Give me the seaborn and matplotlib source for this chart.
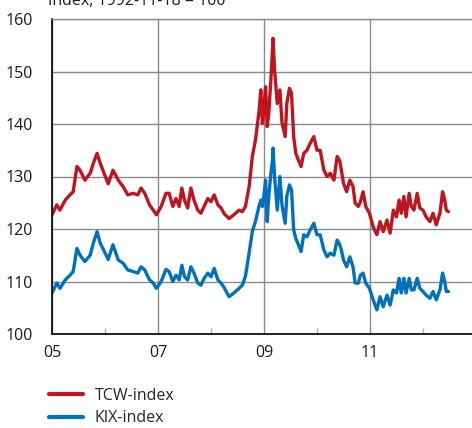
import matplotlib
matplotlib.use("Agg")
import matplotlib.pyplot as plt
from matplotlib.ticker import FixedLocator, NullFormatter
import seaborn as sns
import pandas as pd

# Decimal-year positions of the sampled observations
years = [
    2005.00, 2005.09, 2005.15, 2005.25, 2005.34, 2005.40, 2005.47, 2005.53, 2005.62, 2005.72,
    2005.78, 2005.85, 2005.91, 2005.96, 2006.06, 2006.15, 2006.25, 2006.34, 2006.43, 2006.53,
    2006.62, 2006.68, 2006.75, 2006.84, 2006.91, 2006.97, 2007.06, 2007.15, 2007.21, 2007.28,
    2007.34, 2007.40, 2007.45, 2007.50, 2007.56, 2007.62, 2007.68, 2007.75, 2007.81, 2007.87,
    2007.94, 2008.00, 2008.06, 2008.13, 2008.19, 2008.25, 2008.34, 2008.43, 2008.53, 2008.59,
    2008.65, 2008.72, 2008.78, 2008.84, 2008.91, 2008.94, 2008.97, 2009.00, 2009.03, 2009.06,
    2009.09, 2009.13, 2009.16, 2009.17, 2009.20, 2009.25, 2009.30, 2009.34, 2009.40, 2009.43,
    2009.48, 2009.52, 2009.56, 2009.60, 2009.65, 2009.70, 2009.75, 2009.81, 2009.87, 2009.94,
    2010.00, 2010.06, 2010.13, 2010.19, 2010.25, 2010.32, 2010.38, 2010.43, 2010.46, 2010.50,
    2010.56, 2010.62, 2010.68, 2010.72, 2010.78, 2010.82, 2010.87, 2010.92, 2010.99, 2011.06,
    2011.13, 2011.19, 2011.25, 2011.32, 2011.38, 2011.44, 2011.50, 2011.55, 2011.59, 2011.64,
    2011.68, 2011.74, 2011.78, 2011.83, 2011.89, 2011.94, 2012.00, 2012.06, 2012.13, 2012.19,
    2012.25, 2012.32, 2012.37, 2012.41, 2012.44, 2012.48,
]

tcw_index = [
    122.7, 124.6, 123.6, 125.5, 126.5, 127.1, 131.9, 131.2, 129.3, 130.6,
    132.5, 134.4, 132.5, 131.2, 128.6, 131.2, 129.3, 128.1, 126.5, 126.8,
    126.5, 127.8, 126.8, 124.6, 123.6, 122.7, 124.3, 126.8, 126.8, 124.3,
    125.8, 124.3, 127.8, 125.5, 124.0, 127.8, 125.5, 123.6, 123.0, 124.3,
    125.8, 125.2, 126.5, 124.6, 124.0, 122.9, 122.0, 122.7, 123.6, 123.3,
    124.3, 128.1, 133.8, 137.0, 142.7, 146.5, 140.1, 143.3, 147.1, 139.5,
    142.0, 148.4, 154.1, 156.3, 150.3, 143.9, 146.5, 140.3, 137.6, 143.9,
    146.8, 145.8, 137.6, 134.4, 133.1, 131.9, 134.4, 135.0, 136.3, 137.6,
    135.0, 135.0, 131.2, 130.0, 130.6, 129.3, 133.8, 133.0, 131.2, 128.7,
    127.1, 129.3, 128.1, 124.9, 124.3, 125.2, 127.1, 124.3, 123.0, 120.4,
    118.9, 121.4, 119.5, 121.7, 119.2, 123.6, 122.3, 125.5, 123.0, 126.2,
    122.3, 126.8, 124.3, 123.6, 126.8, 124.0, 123.6, 122.3, 121.4, 123.0,
    120.8, 123.0, 127.1, 125.5, 123.6, 123.3,
]

kix_index = [
    107.8, 109.7, 108.7, 110.3, 111.2, 111.9, 116.3, 115.0, 113.8, 115.0,
    117.3, 119.5, 117.3, 116.3, 114.2, 117.0, 114.1, 113.5, 112.2, 111.9,
    111.6, 112.8, 112.2, 110.3, 109.7, 108.7, 110.0, 112.3, 111.9, 110.0,
    111.2, 110.3, 113.1, 110.9, 110.3, 112.8, 111.6, 109.7, 109.3, 110.6,
    111.6, 110.9, 112.5, 110.3, 109.7, 108.8, 107.1, 107.8, 108.7, 109.3,
    111.0, 115.5, 119.5, 121.5, 124.5, 125.5, 124.3, 126.5, 129.3, 121.4,
    126.2, 130.6, 133.0, 135.4, 130.0, 123.6, 130.0, 124.5, 121.1, 126.2,
    128.4, 127.4, 119.8, 118.2, 117.0, 115.7, 118.9, 118.5, 119.8, 121.1,
    118.9, 118.9, 116.0, 114.7, 115.4, 115.0, 117.9, 117.0, 116.0, 114.1,
    112.8, 114.7, 112.8, 109.7, 109.7, 111.2, 111.6, 109.7, 108.7, 106.5,
    104.6, 107.1, 105.2, 107.4, 105.5, 108.4, 107.8, 110.6, 107.8, 110.6,
    107.8, 110.6, 108.4, 108.4, 110.6, 108.7, 108.1, 107.4, 106.8, 108.1,
    106.5, 108.4, 111.6, 110.0, 108.1, 108.1,
]

series_names = ["TCW-index", "KIX-index"]
series_colors = ["#C0141F", "#0071BC"]

x_ticks = [2005, 2007, 2009, 2011]
x_tick_labels = ["05", "07", "09", "11"]
x_minor_ticks = [2006, 2008, 2010, 2012]
y_ticks = [100, 110, 120, 130, 140, 150, 160]

df = pd.DataFrame({
    "year": years * 2,
    "value": tcw_index + kix_index,
    "series": [series_names[0]] * len(years) + [series_names[1]] * len(years),
})

sns.set_style("white")
plt.rcParams["font.family"] = ["Open Sans", "DejaVu Sans"]

fig = plt.figure(figsize=(4.72, 4.28), dpi=100)
ax = fig.add_axes([52 / 472, 1 - 334 / 428, 1 - 52 / 472, (334 - 19) / 428])

sns.lineplot(
    data=df, x="year", y="value", hue="series",
    hue_order=series_names, palette=series_colors,
    linewidth=2.4, ax=ax, legend=True, estimator=None, sort=False,
)

ax.set_xlim(2005, 2012.925)
ax.set_ylim(100, 160)
ax.set_xlabel("")
ax.set_ylabel("")

ax.xaxis.set_major_locator(FixedLocator(x_ticks))
ax.set_xticklabels(x_tick_labels)
ax.xaxis.set_minor_locator(FixedLocator(x_minor_ticks))
ax.xaxis.set_minor_formatter(NullFormatter())
ax.set_yticks(y_ticks)

ax.grid(True, axis="both", which="major", color="#8a8a8a", linewidth=1.0)
ax.set_axisbelow(True)

ax.tick_params(axis="x", which="major", length=0, pad=8, labelsize=11.5, colors="#1a1a1a")
ax.tick_params(axis="x", which="minor", bottom=True, direction="in", length=4,
               width=1, color="#b0b0b0")
ax.tick_params(axis="y", which="major", length=0, pad=14, labelsize=11.5, colors="#1a1a1a")

for side in ["left", "bottom"]:
    ax.spines[side].set_color("black")
    ax.spines[side].set_linewidth(1.2)
ax.spines["right"].set_visible(False)
ax.spines["top"].set_color("#8a8a8a")
ax.spines["top"].set_linewidth(1.0)

handles, labels = ax.get_legend_handles_labels()
ax.legend(
    handles, labels, loc="upper left",
    bbox_to_anchor=(49 / 472, 1 - 388 / 428), bbox_transform=fig.transFigure,
    frameon=False, fontsize=11.5, handlelength=2.1, handletextpad=0.75,
    labelspacing=0.4, borderaxespad=0, borderpad=0,
)
for line in ax.get_legend().get_lines():
    line.set_linewidth(3.0)

fig.text(48 / 472, 1 - 5 / 428, "Index, 1992-11-18 = 100", fontsize=11.5,
         ha="left", va="baseline", color="#1a1a1a")

fig.savefig("out.png", dpi=100)
